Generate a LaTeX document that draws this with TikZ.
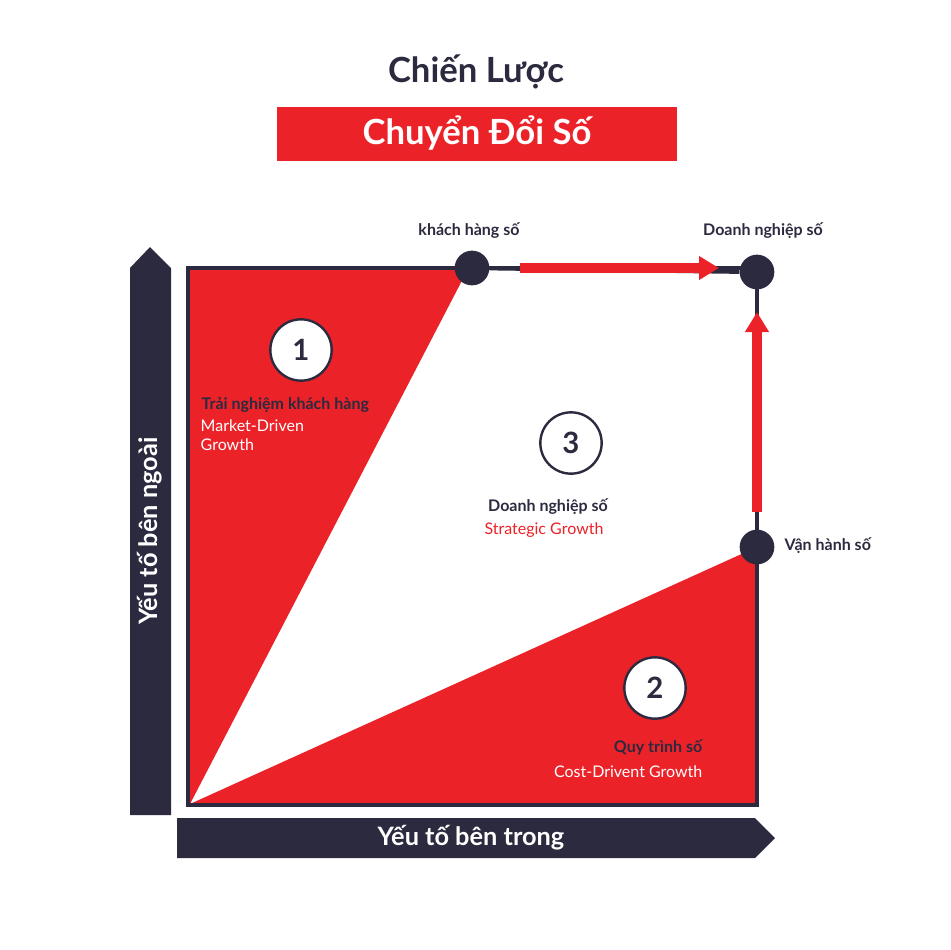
\documentclass[tikz,border=0pt]{standalone}
\usepackage{fontspec}
\setmainfont{Lato}
\definecolor{dk}{HTML}{2B2A3F}
\definecolor{rd}{HTML}{EC2229}
\tikzset{
  lbl/.style={font=\bfseries\fontsize{12}{14}\selectfont, text=dk},
  sub/.style={font=\fontsize{12}{14}\selectfont},
  dot/.style={circle, fill=dk, minimum size=26pt, inner sep=0pt},
  num/.style={circle, draw=dk, line width=1.8pt, fill=white, minimum size=46pt, inner sep=0pt, font=\bfseries\fontsize{22}{24}\selectfont, text=dk},
  redarr/.style={rd, line width=7.5pt, -{Triangle[length=15pt,width=17pt]}, shorten >=0pt}
}
\usetikzlibrary{arrows.meta}
\begin{document}
\begin{tikzpicture}[x=0.75pt,y=-0.75pt]
\useasboundingbox (0,0) rectangle (951,950);
\fill[white] (0,0) rectangle (951,950);
% title
\node[font=\bfseries\fontsize{26}{30}\selectfont, text=dk] (t1) at (476,72) {Chiến Lược};
\fill[rd] (277,107) rectangle (677,161);
\node[font=\bfseries\fontsize{26}{30}\selectfont, text=white] (t2) at (477,133) {Chuyển Đổi Số};
% axes
\fill[dk] (130,815) -- (130,268) -- (150,247) -- (171,268) -- (171,815) -- cycle;
\fill[dk] (177,818) -- (755,818) -- (775,838) -- (755,858) -- (177,858) -- cycle;
\node[font=\bfseries\fontsize{19}{22}\selectfont, text=white, rotate=90] (ya) at (150,531) {Yếu tố bên ngoài};
\node[font=\bfseries\fontsize{19}{22}\selectfont, text=white] (xa) at (471,838) {Yếu tố bên trong};
% regions
\fill[rd] (189,269) -- (468,269) -- (190,804) -- cycle;
\fill[rd] (190,804) -- (757,547) -- (757,804) -- cycle;
\draw[dk, line width=3.2pt] (188,268) rectangle (757,805);
% nodes
\node[dot] (kh) at (472,268) {};
\node[dot] (dn) at (757,272) {};
\node[dot] (vh) at (757,547) {};
\draw[dk, line width=3.2pt] (kh) -- (dn);
\draw[dk, line width=3.2pt] (dn) -- (vh);
\coordinate (ra) at (520,268);
\coordinate (rb) at (719,268);
\coordinate (va) at (757,512);
\coordinate (vb) at (757,312);
\draw[redarr] (ra) -- (rb);
\draw[redarr] (va) -- (vb);
\node[lbl, anchor=south] (lkh) at (469,243) {khách hàng số};
\node[lbl, anchor=south] (ldn) at (763,243) {Doanh nghiệp số};
\node[lbl, anchor=west] (lvh) at (780,546) {Vận hành số};
% numbers
\node[num] (n1) at (301,350) {1};
\node[num] (n3) at (571,443) {3};
\node[num] (n2) at (655,688) {2};
\node[lbl, anchor=west] (a1) at (197,405) {Trải nghiệm khách hàng};
\node[sub, anchor=north west, text=white, align=left] (b1) at (196,415) {Market-Driven\\Growth};
\node[lbl] (a3) at (548,507) {Doanh nghiệp số};
\node[sub, text=rd] (b3) at (544,530) {Strategic Growth};
\node[lbl, anchor=east] (a2) at (707,747) {Quy trình số};
\node[sub, anchor=east, text=white] (b2) at (707,772) {Cost-Drivent Growth};
\end{tikzpicture}
\end{document}
